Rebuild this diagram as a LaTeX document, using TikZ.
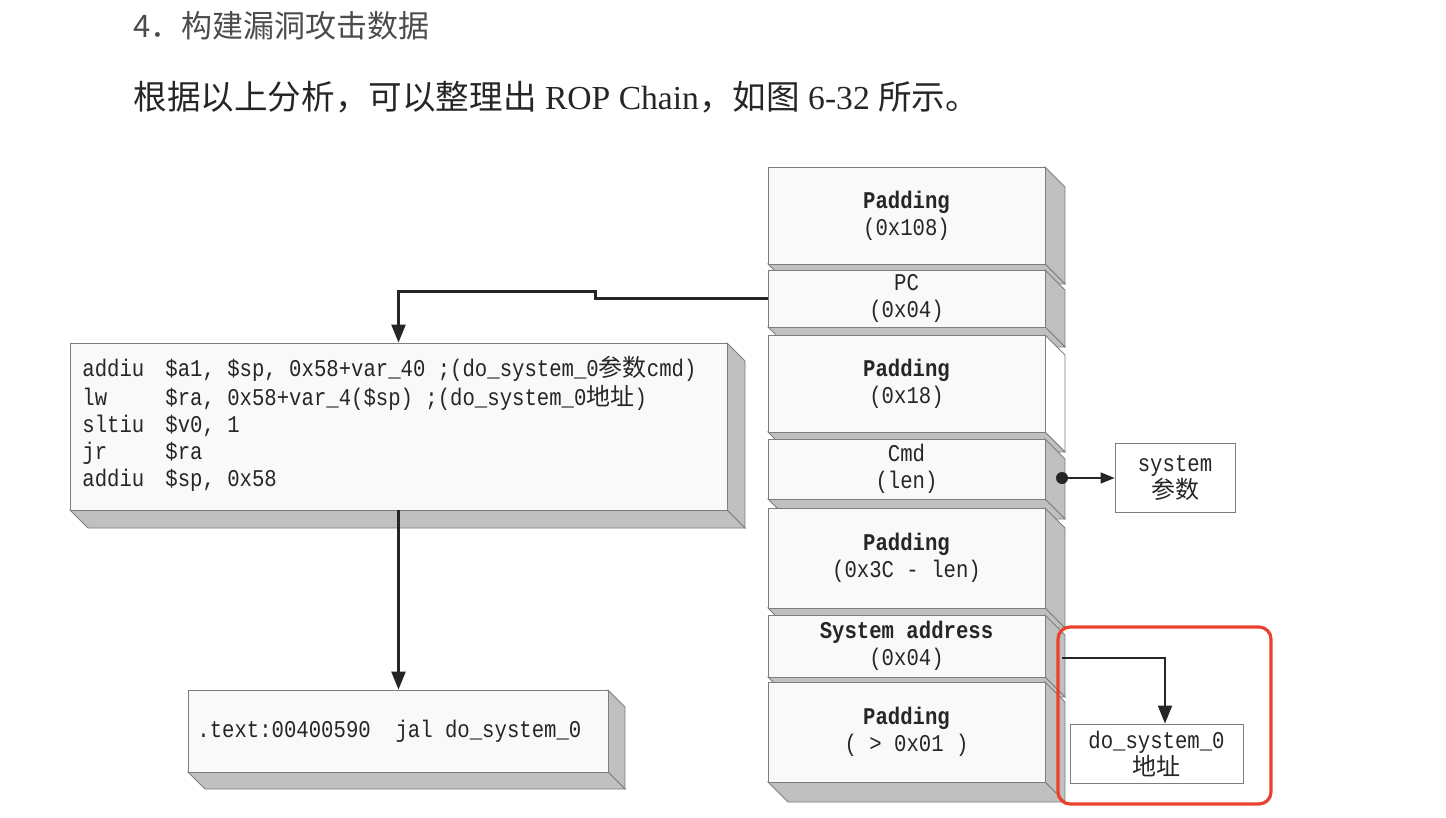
\documentclass[tikz,border=0pt]{standalone}
\usepackage{fontspec}
\setmainfont{Liberation Serif}
\newfontfamily\cjk{Noto Sans CJK SC}
\newfontfamily\codefont[FakeStretch=0.86]{Liberation Mono}
\usepackage{xcolor}
\usepackage{tikz}
\usetikzlibrary{arrows.meta}
\definecolor{facegray}{RGB}{192,192,192}
\definecolor{frontgray}{RGB}{249,249,249}
\definecolor{linegray}{RGB}{125,125,125}
\definecolor{inkgray}{RGB}{38,38,38}
\definecolor{markred}{RGB}{232,66,44}
\newcommand{\slab}[8]{%
  \filldraw[draw=linegray, fill=#7] (#4,#3) -- ++(#6,#6) -- (#4+#6,#5+#6) -- (#4,#5) -- cycle;
  \filldraw[draw=linegray, fill=facegray] (#2,#5) -- (#4,#5) -- (#4+#6,#5+#6) -- (#2+#6,#5+#6) -- cycle;
  \node[slabfront, minimum width={(#4-#2)*0.5pt}, minimum height={(#5-#3)*0.5pt}] (#1) at ({(#2+#4)/2},{(#3+#5)/2}) {#8};
}

\begin{document}
\begin{tikzpicture}[x=0.5pt, y=-0.5pt,
  every node/.style={text=inkgray, font=\codefont\fontsize{12}{13.5}\selectfont},
  slabfront/.style={draw=linegray, fill=frontgray, inner sep=0pt, align=center},
  plainbox/.style={draw=linegray, fill=white, inner sep=0pt, align=center},
  flow/.style={inkgray, line width=1.2pt, -{Triangle[length=9pt, width=7pt]}},
  thinflow/.style={inkgray, line width=0.7pt, -{Triangle[length=7pt, width=5.5pt]}}]
  \useasboundingbox (0,0) rectangle (1446,818);
  \node[anchor=west, inner sep=0pt, text=black!70, font=\cjk\fontsize{15.5}{18}\selectfont] (title) at (133,26) {4．构建漏洞攻击数据};
  \node[anchor=west, inner sep=0pt, font=\rmfamily\fontsize{16.8}{20}\selectfont] (intro) at (133,97)
    {{\cjk 根据以上分析，可以整理出}~ROP Chain{\cjk ，如图}~6-32~{\cjk 所示。}};
  \slab{pad1}{768}{167}{1045}{264}{20}{facegray}{\textbf{Padding}\\(0x108)}
  \slab{pc}{768}{270}{1045}{327}{20}{facegray}{PC\\(0x04)}
  \slab{pad2}{768}{335}{1045}{432}{20}{white}{\textbf{Padding}\\(0x18)}
  \slab{cmd}{768}{439}{1045}{499}{20}{facegray}{Cmd\\(len)}
  \slab{pad3}{768}{508}{1045}{608}{20}{facegray}{\textbf{Padding}\\(0x3C - len)}
  \slab{sysaddr}{768}{615}{1045}{677}{20}{facegray}{\textbf{System address}\\(0x04)}
  \slab{pad4}{768}{682}{1045}{782}{20}{facegray}{\textbf{Padding}\\(~>~0x01~)}
  \slab{codebox}{70}{343}{727}{510}{18}{facegray}{}
  \node[anchor=base west, inner sep=0pt] (codetext) at (82,377)
    {\begin{tabular}[t]{@{}p{41.5pt}@{}l@{}}
      addiu & \$a1, \$sp, 0x58+var\_40 ;(do\_system\_0{\cjk 参数}cmd)\\
      lw    & \$ra, 0x58+var\_4(\$sp) ;(do\_system\_0{\cjk 地址})\\
      sltiu & \$v0, 1\\
      jr    & \$ra\\
      addiu & \$sp, 0x58
    \end{tabular}};
  \slab{jalbox}{188}{690}{608}{772}{17}{facegray}{}
  \node[anchor=base west, inner sep=0pt] (jaltext) at (197,737) {.text:00400590~~jal do\_system\_0};
  \node[plainbox, minimum width=60pt, minimum height=34.5pt] (sysparam) at (1175,478) {system\\{\cjk 参数}};
  \node[plainbox, minimum width=86.5pt, minimum height=29.5pt] (dosys) at (1156.5,753.5) {do\_system\_0\\{\cjk 地址}};
  \coordinate (cmddot) at (1062,478);
  \coordinate (addrout) at (1062,658);
  \coordinate (addrbend) at (1165,658);
  \draw[flow] (pc.west) -- ++(-172,0) -- ++(0,-7) -| (codebox.north);
  \draw[flow] (codebox.south) -- (codebox.south |- jalbox.north);
  \fill[inkgray] (cmddot) circle (6);
  \draw[thinflow] (cmddot) -- (sysparam.west);
  \draw[flow, line width=1pt] (addrout) -- (addrbend) -- (addrbend |- dosys.north);
  \draw[markred, line width=1.6pt, rounded corners=6pt] (1058,627) rectangle (1271,804);
\end{tikzpicture}
\end{document}
